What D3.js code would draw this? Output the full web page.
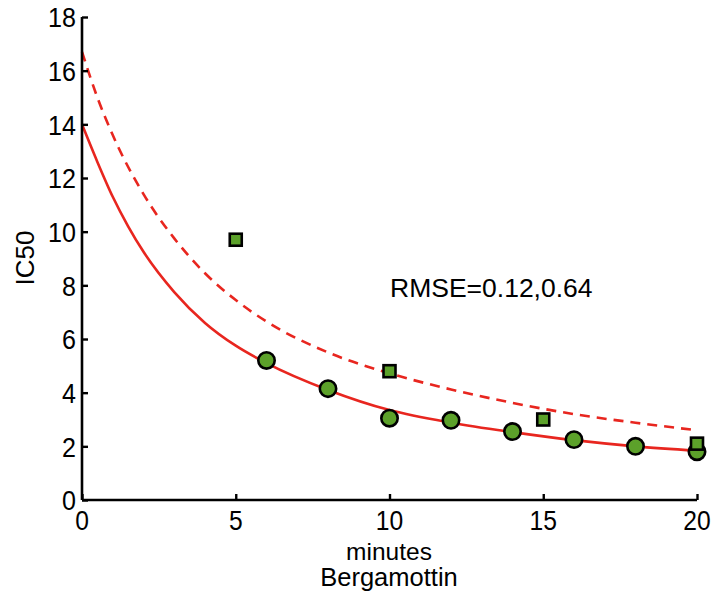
<!DOCTYPE html>
<html>
<head>
<meta charset="utf-8">
<script src="https://cdn.jsdelivr.net/npm/d3@7"></script>
<style>
  body { margin: 0; background: #fff; }
  text { font-family: "Liberation Sans", Arial, sans-serif; fill: #000; }
</style>
</head>
<body>
<svg id="chart" width="715" height="595"></svg>
<script>
// measured points
const circleX = [6, 8, 10, 12, 14, 16, 18, 20];
const circleY = [5.2, 4.15, 3.05, 2.97, 2.55, 2.25, 2.0, 1.8];
const squareX = [5, 10, 15, 20];
const squareY = [9.7, 4.8, 3.0, 2.1];

// fitted curves
const solidX = [0, 0.5, 1, 1.5, 2, 3, 4, 5, 6, 8, 10, 12, 14, 16, 18, 20];
const solidY = [14.0, 12.6, 11.3, 10.2, 9.25, 7.75, 6.6, 5.75, 5.1, 4.1, 3.35, 2.88, 2.53, 2.23, 2.0, 1.84];
const dashX = [0, 0.5, 1, 2, 3, 4, 5, 6, 8, 10, 12, 14, 16, 18, 20];
const dashY = [16.7, 15.0, 13.6, 11.4, 9.75, 8.45, 7.45, 6.65, 5.5, 4.72, 4.12, 3.62, 3.2, 2.88, 2.6];

const xTicks = [0, 5, 10, 15, 20];
const yTicks = [0, 2, 4, 6, 8, 10, 12, 14, 16, 18];

const red = '#e8261f';
const green = '#5ca12a';

const svg = d3.select('#chart');
const x = d3.scaleLinear().domain([0, 20]).range([82, 697]);
const y = d3.scaleLinear().domain([0, 18]).range([500, 17]);

const line = d3.line()
  .x(d => x(d[0]))
  .y(d => y(d[1]))
  .curve(d3.curveMonotoneX);

svg.append('path')
  .datum(d3.zip(dashX, dashY))
  .attr('d', line)
  .attr('fill', 'none')
  .attr('stroke', red)
  .attr('stroke-width', 2.6)
  .attr('stroke-dasharray', '10,7');

svg.append('path')
  .datum(d3.zip(solidX, solidY))
  .attr('d', line)
  .attr('fill', 'none')
  .attr('stroke', red)
  .attr('stroke-width', 2.6);

// axes, ticks pointing inward
const xAxis = svg.append('g')
  .attr('transform', `translate(0,${y(0)})`)
  .call(d3.axisTop(x).tickValues(xTicks).tickSize(6).tickFormat(''));
const yAxis = svg.append('g')
  .attr('transform', `translate(${x(0)},0)`)
  .call(d3.axisRight(y).tickValues(yTicks).tickSize(6).tickFormat(''));

[xAxis, yAxis].forEach(g => {
  g.select('.domain').attr('stroke', '#000').attr('stroke-width', 2.6);
  g.selectAll('.tick line').attr('stroke', '#000').attr('stroke-width', 2.4);
});
xAxis.select('.domain').attr('d', `M${x(0)},0H${x(20)}`);
yAxis.select('.domain').attr('d', `M0,${y(0)}V${y(18)}`);

// tick labels look a bit narrow in the original
svg.append('g').selectAll('text')
  .data(xTicks)
  .join('text')
  .attr('transform', d => `translate(${x(d)},530) scale(0.88,1)`)
  .attr('text-anchor', 'middle')
  .attr('font-size', 28)
  .text(d => d);

svg.append('g').selectAll('text')
  .data(yTicks)
  .join('text')
  .attr('transform', d => `translate(76,${y(d) + 10.2}) scale(0.88,1)`)
  .attr('text-anchor', 'end')
  .attr('font-size', 28.5)
  .text(d => d);

// markers
svg.append('g').selectAll('circle')
  .data(d3.zip(circleX, circleY))
  .join('circle')
  .attr('cx', d => x(d[0]))
  .attr('cy', d => y(d[1]))
  .attr('r', 8.2)
  .attr('fill', green)
  .attr('stroke', '#000')
  .attr('stroke-width', 2.6);

svg.append('g').selectAll('rect')
  .data(d3.zip(squareX, squareY))
  .join('rect')
  .attr('x', d => x(d[0]) - 6)
  .attr('y', d => y(d[1]) - 6)
  .attr('width', 12)
  .attr('height', 12)
  .attr('fill', green)
  .attr('stroke', '#000')
  .attr('stroke-width', 2.6);

svg.append('text')
  .attr('x', 390)
  .attr('y', 297)
  .attr('font-size', 26.5)
  .text('RMSE=0.12,0.64');

svg.append('text')
  .attr('x', 389)
  .attr('y', 560)
  .attr('text-anchor', 'middle')
  .attr('font-size', 24.5)
  .text('minutes');

svg.append('text')
  .attr('x', 389)
  .attr('y', 586)
  .attr('text-anchor', 'middle')
  .attr('font-size', 25.5)
  .text('Bergamottin');

svg.append('text')
  .attr('transform', 'translate(34,258) rotate(-90)')
  .attr('text-anchor', 'middle')
  .attr('font-size', 26)
  .text('IC50');
</script>
</body>
</html>
